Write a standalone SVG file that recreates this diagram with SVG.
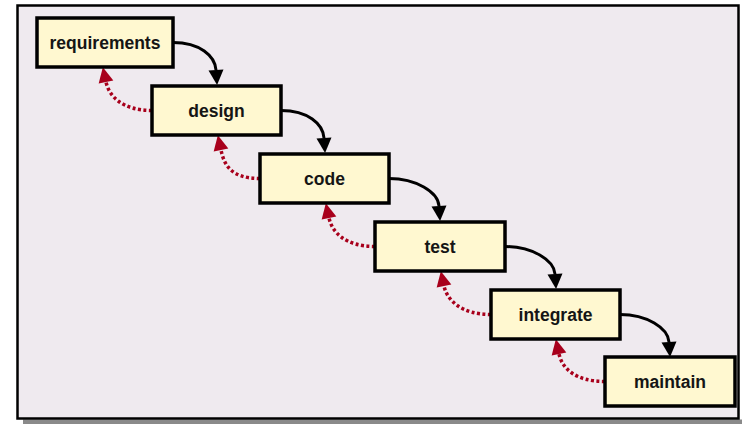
<svg xmlns="http://www.w3.org/2000/svg" width="742" height="424" viewBox="0 0 742 424">
<style>
.box{fill:#fff8d0;stroke:#000;stroke-width:3.5}
.lbl{font-family:"Liberation Sans",Arial,sans-serif;font-size:17.5px;font-weight:bold;fill:#151515;text-anchor:middle;dominant-baseline:central}
.fwd{fill:none;stroke:#000;stroke-width:3}
.back{fill:none;stroke:#a8001c;stroke-width:3.5;stroke-dasharray:3 2.5}
</style>
<defs>
<marker id="ah" markerUnits="userSpaceOnUse" markerWidth="16" markerHeight="16" refX="0" refY="7.5" orient="auto" overflow="visible">
<path d="M0,0 L15,7.5 L0,15 z" fill="#000"/>
</marker>
<marker id="ahr" markerUnits="userSpaceOnUse" markerWidth="16" markerHeight="16" refX="0" refY="7.5" orient="auto" overflow="visible">
<path d="M0,0 L15,7.5 L0,15 z" fill="#a8001c"/>
</marker>
</defs>
<rect x="23" y="419.5" width="719" height="5" fill="#8a8a8a"/>
<rect x="17.5" y="5.5" width="721" height="413" fill="#efeaef" stroke="#000" stroke-width="2.5"/>
<g id="connectors">
<path class="fwd" marker-end="url(#ah)" d="M173,42.5 C200,42.5 215,56 216,70"/>
<path class="fwd" marker-end="url(#ah)" d="M281,110.5 C308,110.5 323,124 324,138"/>
<path class="fwd" marker-end="url(#ah)" d="M389,178.5 C416,178.5 438,192 439,206"/>
<path class="fwd" marker-end="url(#ah)" d="M505,246.5 C532,246.5 554,260 555,274"/>
<path class="fwd" marker-end="url(#ah)" d="M620,314.5 C647,314.5 668,328 669,342"/>
<path class="back" marker-end="url(#ahr)" d="M152,110.5 C122,110.5 109,96 106,82"/>
<path class="back" marker-end="url(#ahr)" d="M260,178.5 C230,178.5 224,164 221,150"/>
<path class="back" marker-end="url(#ahr)" d="M375,246.5 C345,246.5 332,232 329,218"/>
<path class="back" marker-end="url(#ahr)" d="M491,314.5 C461,314.5 447,300 444,286"/>
<path class="back" marker-end="url(#ahr)" d="M605,381.5 C575,381.5 562,368 559,354"/>
</g>
<g id="requirements"><rect class="box" x="37" y="18" width="136" height="49"/><text class="lbl" x="105" y="42.5">requirements</text></g>
<g id="design"><rect class="box" x="152" y="86" width="129" height="49"/><text class="lbl" x="216.5" y="110.5">design</text></g>
<g id="code"><rect class="box" x="260" y="154" width="129" height="49"/><text class="lbl" x="324.5" y="178.5">code</text></g>
<g id="test"><rect class="box" x="375" y="222" width="130" height="49"/><text class="lbl" x="440" y="246.5">test</text></g>
<g id="integrate"><rect class="box" x="491" y="290" width="129" height="49"/><text class="lbl" x="555.5" y="314.5">integrate</text></g>
<g id="maintain"><rect class="box" x="605" y="357" width="130" height="49"/><text class="lbl" x="670" y="381.5">maintain</text></g>
</svg>
